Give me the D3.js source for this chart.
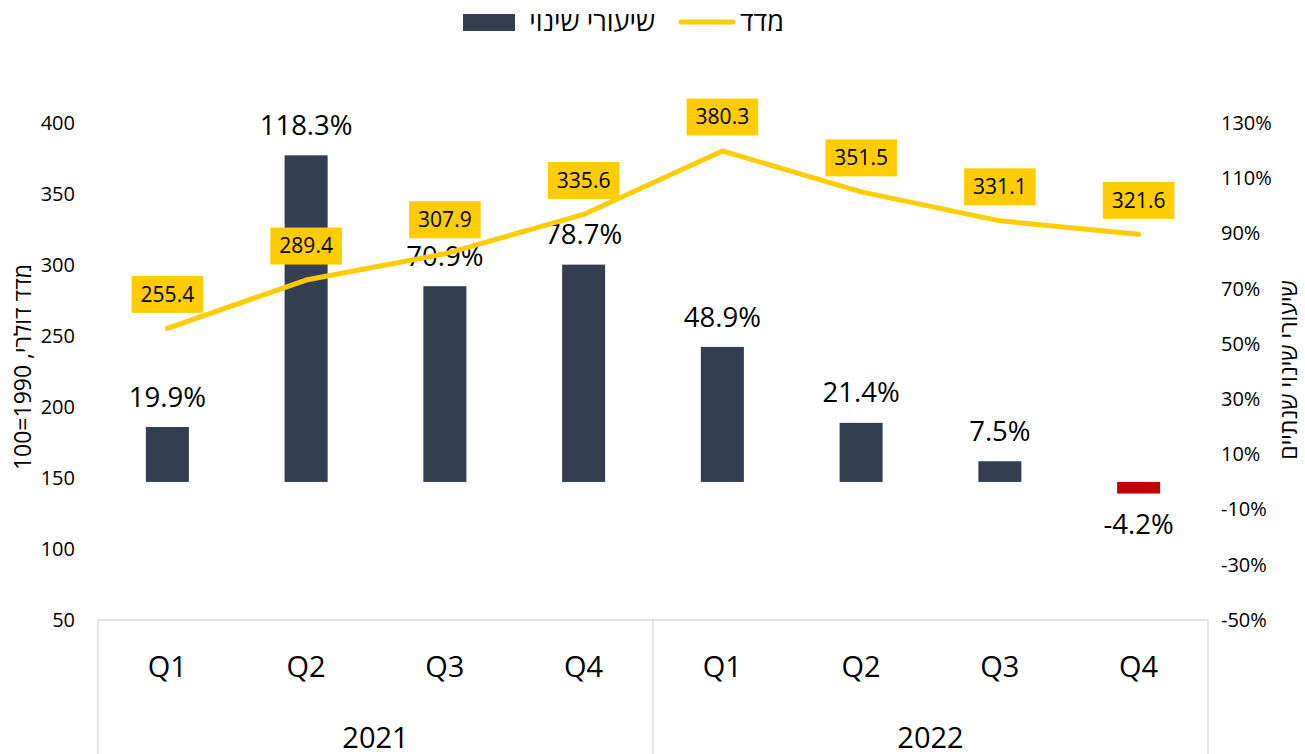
<!DOCTYPE html>
<html>
<head>
<meta charset="utf-8">
<script src="https://cdn.jsdelivr.net/npm/d3@7"></script>
<style>
  html, body { margin: 0; padding: 0; background: #fff; }
  svg { display: block; }
  text { font-family: "Open Sans", "DejaVu Sans", sans-serif; fill: #000; }
</style>
</head>
<body>
<svg id="chart" width="1305" height="754"></svg>
<script>
// ---- data ----
const categories = ["Q1", "Q2", "Q3", "Q4", "Q1", "Q2", "Q3", "Q4"];
const years = ["2021", "2022"];
const changeRates = [19.9, 118.3, 70.9, 78.7, 48.9, 21.4, 7.5, -4.2];
const indexValues = [255.4, 289.4, 307.9, 335.6, 380.3, 351.5, 331.1, 321.6];
const leftTicks = [50, 100, 150, 200, 250, 300, 350, 400];
const rightTicks = [-50, -30, -10, 10, 30, 50, 70, 90, 110, 130];
const seriesNames = ["שיעורי שינוי", "מדד"];
const leftTitle = "מדד דולרי, \u200E100=1990";
const rightTitle = "שיעורי שינוי שנתיים";

// ---- layout ----
const plot = { left: 98, right: 1208, top: 123, bottom: 620 };
const barColor = "#333F50", negColor = "#C00000", lineColor = "#FFCC00", gridColor = "#D9D9D9";

const svg = d3.select("#chart");

const x = d3.scaleBand()
  .domain(d3.range(categories.length))
  .range([plot.left, plot.right])
  .paddingInner(0.69)
  .paddingOuter(0.345);
const cx = i => x(i) + x.bandwidth() / 2;

const yL = d3.scaleLinear().domain([50, 400]).range([plot.bottom, plot.top]);
const yR = d3.scaleLinear().domain([-50, 130]).range([plot.bottom, plot.top]);

// ---- axes ----
const axL = svg.append("g")
  .attr("transform", `translate(${plot.left},0)`)
  .call(d3.axisLeft(yL).tickValues(leftTicks).tickSize(0).tickPadding(23));
axL.select(".domain").remove();
axL.selectAll("text").style("font-size", "20px").attr("fill", "#000");

const axR = svg.append("g")
  .attr("transform", `translate(${plot.right},0)`)
  .call(d3.axisRight(yR).tickValues(rightTicks).tickSize(0).tickPadding(13)
    .tickFormat(d => d + "%"));
axR.select(".domain").remove();
axR.selectAll("text").style("font-size", "20px").attr("fill", "#000");

// category axis
const axX = svg.append("g")
  .attr("transform", `translate(0,${plot.bottom})`)
  .call(d3.axisBottom(x).tickSize(0).tickPadding(36).tickFormat(i => categories[i]));
axX.select(".domain").remove();
axX.selectAll("text").style("font-size", "29px").attr("fill", "#000");

// axis lines and group separators
svg.append("line")
  .attr("x1", plot.left).attr("x2", plot.right)
  .attr("y1", plot.bottom).attr("y2", plot.bottom)
  .attr("stroke", gridColor).attr("stroke-width", 1.3);

const perYear = categories.length / years.length;
const sepX = d3.range(years.length + 1).map(k =>
  k === years.length ? plot.right : (k === 0 ? plot.left : x(k * perYear) - x.step() * x.paddingInner() / 2));
svg.selectAll(".sep").data(sepX).join("line")
  .attr("x1", d => d).attr("x2", d => d)
  .attr("y1", plot.bottom).attr("y2", 754)
  .attr("stroke", gridColor).attr("stroke-width", 1.3);

svg.selectAll(".year").data(years).join("text")
  .attr("x", (d, k) => (sepX[k] + sepX[k + 1]) / 2)
  .attr("y", 738)
  .attr("dy", "0.35em")
  .attr("text-anchor", "middle")
  .style("font-size", "29px")
  .text(d => d);

// axis titles
svg.append("text")
  .attr("transform", "translate(23,367) rotate(-90)")
  .attr("text-anchor", "middle")
  .attr("dy", "0.35em")
  .attr("direction", "rtl")
  .style("unicode-bidi", "embed")
  .style("font-size", "23px")
  .text(leftTitle);

svg.append("text")
  .attr("transform", "translate(1289,370) rotate(-90)")
  .attr("text-anchor", "middle")
  .attr("dy", "0.35em")
  .attr("direction", "rtl")
  .style("unicode-bidi", "embed")
  .style("font-size", "23px")
  .text(rightTitle);

// ---- bars ----
svg.selectAll(".bar").data(changeRates).join("rect")
  .attr("x", (d, i) => x(i))
  .attr("width", x.bandwidth())
  .attr("y", d => d >= 0 ? yR(d) : yR(0))
  .attr("height", d => Math.abs(yR(d) - yR(0)))
  .attr("fill", d => d >= 0 ? barColor : negColor);

svg.selectAll(".barlabel").data(changeRates).join("text")
  .attr("x", (d, i) => cx(i))
  .attr("y", d => d >= 0 ? yR(d) - 30 : yR(d) + 31)
  .attr("dy", "0.35em")
  .attr("text-anchor", "middle")
  .style("font-size", "27.5px")
  .text(d => d.toFixed(1) + "%");

// ---- line ----
const line = d3.line().x((d, i) => cx(i)).y(d => yL(d));
svg.append("path")
  .datum(indexValues)
  .attr("d", line)
  .attr("fill", "none")
  .attr("stroke", lineColor)
  .attr("stroke-width", 5)
  .attr("stroke-linecap", "round")
  .attr("stroke-linejoin", "round");

const lbl = svg.selectAll(".linelabel").data(indexValues).join("g")
  .attr("transform", (d, i) => `translate(${cx(i)},${yL(d) - 34})`);
lbl.append("text")
  .attr("text-anchor", "middle")
  .attr("dy", "0.35em")
  .style("font-size", "21px")
  .text(d => d.toFixed(1));
lbl.each(function () {
  const g = d3.select(this);
  const bb = g.select("text").node().getBBox();
  g.insert("rect", "text")
    .attr("x", bb.x - 9).attr("width", bb.width + 18)
    .attr("y", -18.5).attr("height", 37)
    .attr("fill", lineColor);
});

// ---- legend ----
const leg = svg.append("g");
leg.append("rect").attr("x", 463).attr("y", 14).attr("width", 52).attr("height", 17).attr("fill", barColor);
leg.append("text").attr("x", 655).attr("y", 22).attr("dy", "0.35em")
  .attr("text-anchor", "end").style("font-size", "27px").text(seriesNames[0]);
leg.append("line").attr("x1", 681).attr("x2", 733).attr("y1", 22).attr("y2", 22)
  .attr("stroke", lineColor).attr("stroke-width", 5).attr("stroke-linecap", "round");
leg.append("text").attr("x", 784).attr("y", 22).attr("dy", "0.35em")
  .attr("text-anchor", "end").style("font-size", "27px").text(seriesNames[1]);
</script>
</body>
</html>
